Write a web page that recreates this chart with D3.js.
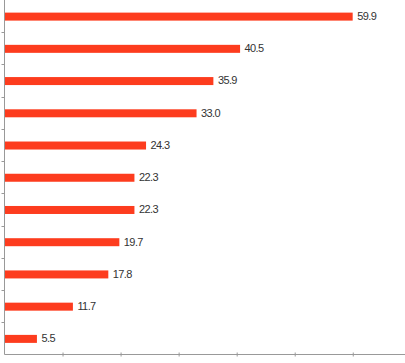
<!DOCTYPE html>
<html><head><meta charset="utf-8">
<script src="https://cdn.jsdelivr.net/npm/d3@7"></script>
<style>body{margin:0;background:#fff}svg{display:block}</style>
</head><body>
<svg id="c" width="405" height="363"></svg>
<script>
const categories = ["A","B","C","D","E","F","G","H","I","J","K"];
const values = [59.9, 40.5, 35.9, 33.0, 24.3, 22.3, 22.3, 19.7, 17.8, 11.7, 5.5];
const xTicks = [0,10,20,30,40,50,60];

const svg = d3.select("#c");
const m = {left:4.5, top:0, right:0, bottom:8.5};
const W = 405, H = 363;
const x = d3.scaleLinear().domain([0,69]).range([m.left, W]);
const y = d3.scaleBand().domain(categories).range([m.top, H-m.bottom]);

// left axis with ticks at band boundaries
const axisCol = "#999";
const g = svg.append("g");
g.append("line").attr("x1",m.left).attr("x2",m.left).attr("y1",y.range()[0]).attr("y2",y.range()[1]).attr("stroke",axisCol);
const bounds = categories.map(c=>y(c)).concat([y.range()[1]]);
g.selectAll(".lt").data(bounds.slice(1,-1)).enter().append("line")
  .attr("x1",m.left-3).attr("x2",m.left).attr("y1",d=>Math.round(d)+0.5).attr("y2",d=>Math.round(d)+0.5).attr("stroke",axisCol);

// bottom axis
const xa = d3.axisBottom(x).tickValues(xTicks).tickSize(3).tickFormat("");
const gx = svg.append("g").attr("transform",`translate(0,${H-m.bottom})`).call(xa);
gx.select(".domain").attr("stroke",axisCol).attr("d",`M${m.left},0H${W}`);
gx.selectAll(".tick line").attr("stroke",axisCol).attr("y1",-2).attr("y2",2);
gx.selectAll(".tick").filter(d=>d===0).remove();

const bh = 8;
svg.selectAll(".bar").data(values).enter().append("rect")
  .attr("x",x(0)+0.5).attr("y",(d,i)=>y(categories[i])+y.bandwidth()/2-bh/2+0.5)
  .attr("width",d=>x(d)-x(0)).attr("height",bh).attr("fill","#fd3c1e");

svg.selectAll(".lab").data(values).enter().append("text")
  .attr("x",d=>x(d)+5).attr("y",(d,i)=>y(categories[i])+y.bandwidth()/2+1)
  .attr("dominant-baseline","middle")
  .attr("font-family","Liberation Sans, Arial, sans-serif").attr("font-size",11)
  .attr("letter-spacing","-0.6px").attr("fill","#333")
  .text(d=>d.toFixed(1));
</script>
</body></html>
